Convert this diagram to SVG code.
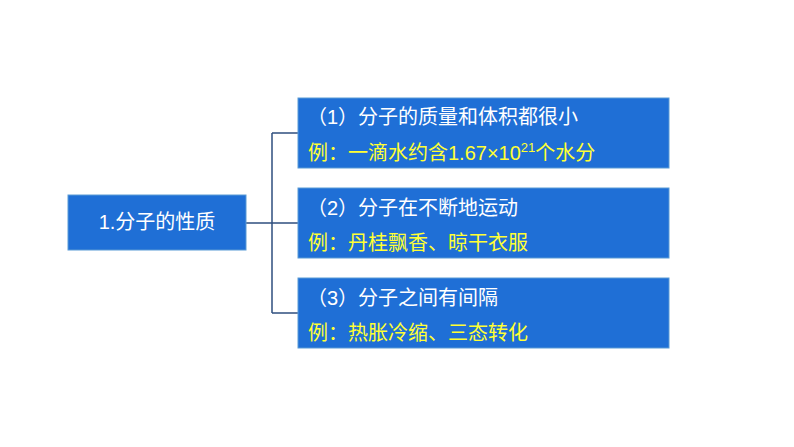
<svg xmlns="http://www.w3.org/2000/svg" width="794" height="447" viewBox="0 0 794 447">
<style>
.b{fill:#1f6fd6;stroke:#5b9bd5;stroke-width:1}
.w{fill:#fff;font-family:"Liberation Sans","Noto Sans CJK SC",sans-serif;font-size:20px}
.y{fill:#ffff33;font-family:"Liberation Sans","Noto Sans CJK SC",sans-serif;font-size:20px}
.c{fill:none;stroke:#2f4f7f;stroke-width:1.5}
</style>
<rect width="794" height="447" fill="#fff"/>
<g id="connectors"><path class="c" d="M246 223H298M272 133V313M272 133H298M272 313H298"/></g>
<g id="root"><rect class="b" x="68" y="195" width="178" height="55"/><text class="w" x="157" y="229" text-anchor="middle">1.分子的性质</text></g>
<g id="n1"><rect class="b" x="298" y="98" width="371" height="70"/><text class="w" x="307" y="124">（1）分子的质量和体积都很小</text><text class="y" x="308" y="160">例：一滴水约含1.67×10<tspan font-size="13" dy="-8">21</tspan><tspan dy="8">个水分</tspan></text></g>
<g id="n2"><rect class="b" x="298" y="188" width="371" height="70"/><text class="w" x="307" y="215">（2）分子在不断地运动</text><text class="y" x="308" y="250">例：丹桂飘香、晾干衣服</text></g>
<g id="n3"><rect class="b" x="298" y="278" width="371" height="70"/><text class="w" x="307" y="305">（3）分子之间有间隔</text><text class="y" x="308" y="340">例：热胀冷缩、三态转化</text></g>
</svg>
